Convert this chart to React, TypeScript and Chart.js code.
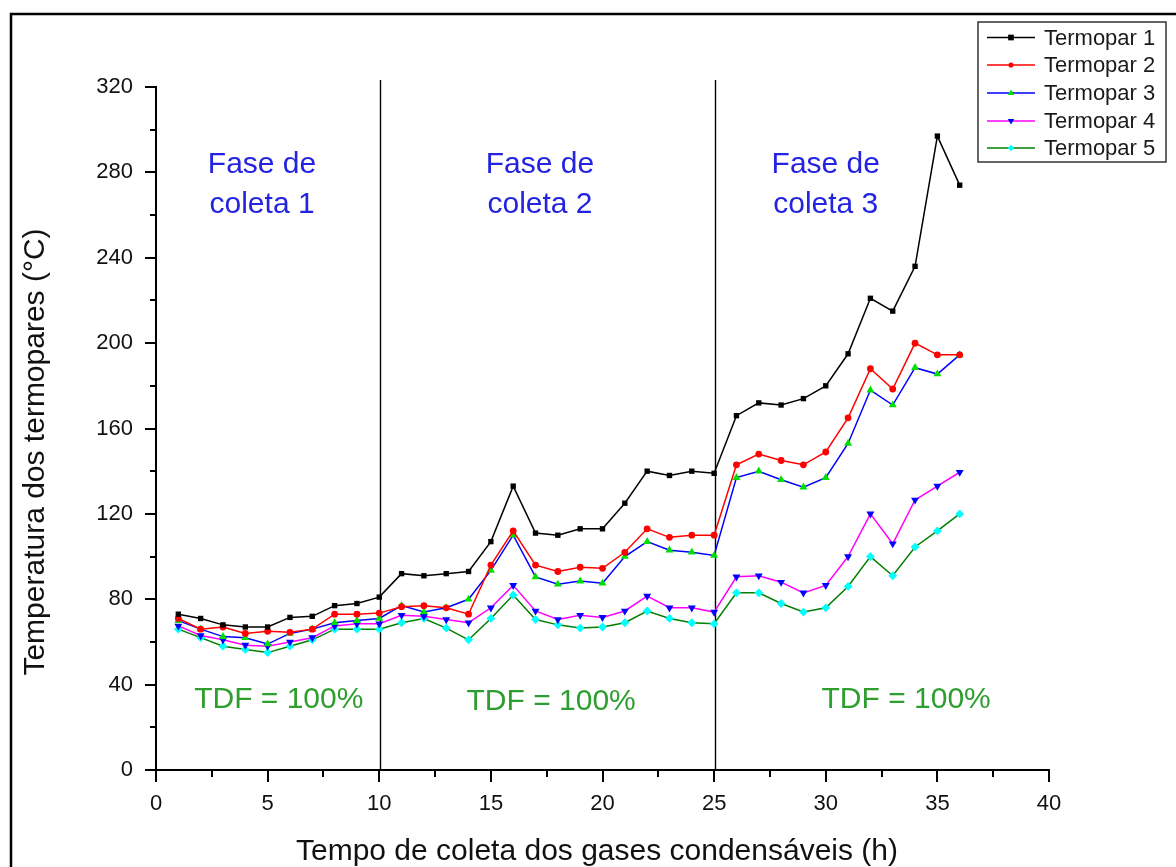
import React, { useEffect, useRef } from "react";
import { Chart, registerables } from "chart.js";

Chart.register(...registerables);

// Hours of collection (x axis)
const hours = [
  1, 2, 3, 4, 5, 6, 7, 8, 9, 10, 11, 12, 13, 14, 15, 16, 17, 18,
  19, 20, 21, 22, 23, 24, 25, 26, 27, 28, 29, 30, 31, 32, 33, 34, 35, 36,
];

// Thermocouple temperatures (°C)
const termopar1 = [
  73, 71, 68, 67, 67, 71.5, 72, 77, 78, 81, 92, 91, 92, 93, 107, 133, 111, 110,
  113, 113, 125, 140, 138, 140, 139, 166, 172, 171, 174, 180, 195, 221, 215, 236, 297, 274,
];
const termopar2 = [
  71, 66, 67, 64, 65, 64.5, 66, 73, 73, 73.5, 76.5, 77, 76, 73, 96, 112, 96, 93,
  95, 94.5, 102, 113, 109, 110, 110, 143, 148, 145, 143, 149, 165, 188, 178.5, 200, 194.5, 194.5,
];
const termopar3 = [
  70, 66, 62.5, 62, 59, 64, 66, 69, 70, 71, 77, 74, 76, 80, 93.5, 110, 90.5, 87,
  88.5, 87.5, 100, 107, 103, 102, 100.5, 137, 140, 136, 132.5, 137, 153, 178, 171, 188.5, 185.5, 194.5,
];
const termopar4 = [
  67.5, 63, 61, 58.5, 58, 60, 62, 67.5, 68.5, 68.5, 72.5, 72, 70.5, 69, 76, 86.5, 74.5, 70.5,
  72.5, 71.5, 74.5, 81.5, 76, 76, 74, 90.5, 91, 88, 83, 86.5, 100, 120, 106, 126.5, 133, 139.5,
];
const termopar5 = [
  66, 62, 58, 56.5, 55, 58, 61, 66, 66, 66, 69, 71, 66.5, 61, 71, 82, 70.5, 68,
  66.5, 67, 69, 74.5, 71, 69, 68.5, 83, 83, 78, 74, 76, 86, 100, 91, 104.5, 112, 120,
];

const seriesNames = ["Termopar 1", "Termopar 2", "Termopar 3", "Termopar 4", "Termopar 5"];
const seriesValues = [termopar1, termopar2, termopar3, termopar4, termopar5];

// Phase boundaries (h)
const phaseLimits = [10, 25];
const phaseLabels = [
  { x: 4.75, lines: ["Fase de", "coleta 1"] },
  { x: 17.2, lines: ["Fase de", "coleta 2"] },
  { x: 30.0, lines: ["Fase de", "coleta 3"] },
];
const tdfLabels = [
  { x: 5.5, y: 32.8, text: "TDF = 100%" },
  { x: 17.7, y: 31.9, text: "TDF = 100%" },
  { x: 33.6, y: 32.8, text: "TDF = 100%" },
];

const FONT = "'Liberation Sans', Arial, sans-serif";

type Style = {
  line: string;
  marker: string;
  shape: "rect" | "circle" | "triangle" | "triangleDown" | "diamond";
  radius: number;
};

const styles: Style[] = [
  { line: "#000000", marker: "#000000", shape: "rect", radius: 3.8 },
  { line: "#ff0000", marker: "#ff0000", shape: "circle", radius: 3.4 },
  { line: "#0000ff", marker: "#00e000", shape: "triangle", radius: 4.6 },
  { line: "#ff00ff", marker: "#0000ff", shape: "triangleDown", radius: 4.6 },
  { line: "#008000", marker: "#00ffff", shape: "diamond", radius: 4.4 },
];

function chartPointStyle(s: Style): { style: any; rotation: number } {
  switch (s.shape) {
    case "rect":
      return { style: "rect", rotation: 0 };
    case "circle":
      return { style: "circle", rotation: 0 };
    case "triangle":
      return { style: "triangle", rotation: 0 };
    case "triangleDown":
      return { style: "triangle", rotation: 180 };
    default:
      return { style: "rectRot", rotation: 0 };
  }
}

function drawMarker(ctx: CanvasRenderingContext2D, s: Style, x: number, y: number) {
  const r = s.radius;
  ctx.fillStyle = s.marker;
  ctx.beginPath();
  if (s.shape === "rect") {
    ctx.rect(x - r, y - r, 2 * r, 2 * r);
  } else if (s.shape === "circle") {
    ctx.arc(x, y, r, 0, Math.PI * 2);
  } else if (s.shape === "triangle") {
    ctx.moveTo(x, y - r);
    ctx.lineTo(x + r * 0.95, y + r * 0.6);
    ctx.lineTo(x - r * 0.95, y + r * 0.6);
    ctx.closePath();
  } else if (s.shape === "triangleDown") {
    ctx.moveTo(x, y + r);
    ctx.lineTo(x + r * 0.95, y - r * 0.6);
    ctx.lineTo(x - r * 0.95, y - r * 0.6);
    ctx.closePath();
  } else {
    ctx.moveTo(x, y - r);
    ctx.lineTo(x + r, y);
    ctx.lineTo(x, y + r);
    ctx.lineTo(x - r, y);
    ctx.closePath();
  }
  ctx.fill();
}

const decorations = {
  id: "decorations",
  beforeDatasetsDraw(chart: any) {
    const { ctx, chartArea, scales } = chart;
    ctx.save();
    ctx.strokeStyle = "#000";
    ctx.lineWidth = 1.4;
    for (const h of phaseLimits) {
      const px = Math.round(scales.x.getPixelForValue(h)) + 1.5;
      ctx.beginPath();
      ctx.moveTo(px, chartArea.top - 7);
      ctx.lineTo(px, chartArea.bottom);
      ctx.stroke();
    }
    ctx.restore();
  },
  afterDraw(chart: any) {
    const { ctx, chartArea, scales } = chart;
    const xs = scales.x;
    const ys = scales.y;
    ctx.save();

    // minor ticks
    ctx.strokeStyle = "#000";
    ctx.lineWidth = 2;
    for (let v = 20; v < 320; v += 40) {
      const py = Math.round(ys.getPixelForValue(v));
      ctx.beginPath();
      ctx.moveTo(chartArea.left - 6, py);
      ctx.lineTo(chartArea.left, py);
      ctx.stroke();
    }
    for (let v = 2.5; v < 40; v += 5) {
      const px = Math.round(xs.getPixelForValue(v));
      ctx.beginPath();
      ctx.moveTo(px, chartArea.bottom);
      ctx.lineTo(px, chartArea.bottom + 7);
      ctx.stroke();
    }

    // phase annotations
    ctx.fillStyle = "#2323e0";
    ctx.font = `30px ${FONT}`;
    ctx.textAlign = "center";
    ctx.textBaseline = "middle";
    for (const p of phaseLabels) {
      const px = xs.getPixelForValue(p.x);
      ctx.fillText(p.lines[0], px, ys.getPixelForValue(283.5));
      ctx.fillText(p.lines[1], px, ys.getPixelForValue(265));
    }
    ctx.fillStyle = "#2e9e2e";
    for (const t of tdfLabels) {
      ctx.fillText(t.text, xs.getPixelForValue(t.x), ys.getPixelForValue(t.y));
    }

    // axis titles
    ctx.fillStyle = "#111";
    ctx.font = `30px ${FONT}`;
    ctx.fillText("Tempo de coleta dos gases condensáveis (h)", 597, 852);
    ctx.save();
    ctx.translate(36, 452);
    ctx.rotate(-Math.PI / 2);
    ctx.fillText("Temperatura dos termopares (°C)", 0, 0);
    ctx.restore();

    // legend
    const boxL = 978, boxT = 22, boxR = 1166, boxB = 162;
    ctx.fillStyle = "#fff";
    ctx.fillRect(boxL, boxT, boxR - boxL, boxB - boxT);
    ctx.strokeStyle = "#333";
    ctx.lineWidth = 1.5;
    ctx.strokeRect(boxL, boxT, boxR - boxL, boxB - boxT);
    const rowY = [37.5, 65, 93, 121, 148];
    ctx.font = `22px ${FONT}`;
    ctx.textAlign = "left";
    ctx.textBaseline = "middle";
    seriesNames.forEach((name, i) => {
      const s = styles[i];
      const y = rowY[i];
      ctx.strokeStyle = s.line;
      ctx.lineWidth = 1.5;
      ctx.beginPath();
      ctx.moveTo(987, y);
      ctx.lineTo(1035, y);
      ctx.stroke();
      drawMarker(ctx, { ...s, radius: s.radius * 0.75 }, 1011, y);
      ctx.fillStyle = "#1a1a1a";
      ctx.fillText(name, 1044, y + 1);
    });

    // outer frame
    ctx.strokeStyle = "#000";
    ctx.lineWidth = 2.5;
    ctx.strokeRect(11, 14, 1300, 1000);

    ctx.restore();
  },
};

export default function App() {
  const canvasRef = useRef<HTMLCanvasElement | null>(null);

  useEffect(() => {
    const canvas = canvasRef.current;
    if (!canvas) return;

    const datasets = seriesValues.map((vals, i) => {
      const s = styles[i];
      const ps = chartPointStyle(s);
      return {
        label: seriesNames[i],
        data: hours.map((h, k) => ({ x: h, y: vals[k] })),
        borderColor: s.line,
        borderWidth: 1.5,
        backgroundColor: s.marker,
        pointBackgroundColor: s.marker,
        pointBorderColor: s.marker,
        pointBorderWidth: 0,
        pointStyle: ps.style,
        pointRotation: ps.rotation,
        pointRadius: s.radius,
        tension: 0,
        fill: false,
      };
    });

    const chart = new Chart(canvas, {
      type: "line",
      data: { datasets },
      options: {
        responsive: false,
        animation: false,
        layout: { padding: { left: 0, top: 87, right: 127, bottom: 0 } },
        plugins: {
          legend: { display: false },
          tooltip: { enabled: false },
        },
        scales: {
          x: {
            type: "linear",
            min: 0,
            max: 40,
            ticks: {
              stepSize: 5,
              color: "#111",
              font: { family: FONT, size: 22 },
              padding: 9,
              maxRotation: 0,
            },
            grid: {
              drawOnChartArea: false,
              drawTicks: true,
              tickLength: 12,
              color: "#000",
              lineWidth: 2,
            },
            border: { display: true, color: "#000", width: 2 },
            afterFit: (s: any) => {
              s.height = 97;
            },
          },
          y: {
            type: "linear",
            min: 0,
            max: 320,
            ticks: {
              stepSize: 40,
              color: "#111",
              font: { family: FONT, size: 22 },
              padding: 12,
            },
            grid: {
              drawOnChartArea: false,
              drawTicks: true,
              tickLength: 11,
              color: "#000",
              lineWidth: 2,
            },
            border: { display: true, color: "#000", width: 2 },
            afterFit: (s: any) => {
              s.width = 156;
            },
          },
        },
      } as any,
      plugins: [decorations],
    });

    return () => chart.destroy();
  }, []);

  return (
    <div
      style={{
        position: "fixed",
        left: 0,
        top: 0,
        width: 1176,
        height: 867,
        background: "#fff",
      }}
    >
      <canvas ref={canvasRef} width={1176} height={867} />
    </div>
  );
}
